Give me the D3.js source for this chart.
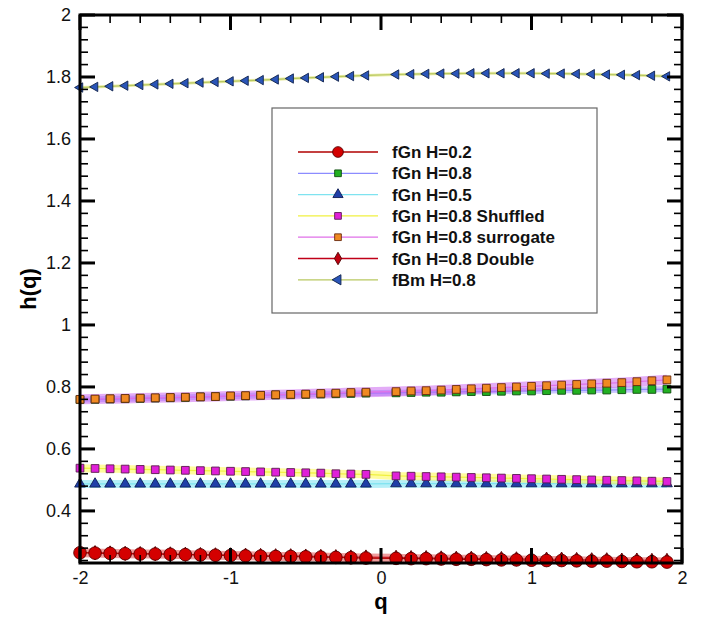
<!DOCTYPE html>
<html>
<head>
<meta charset="utf-8">
<script src="https://cdn.jsdelivr.net/npm/d3@7"></script>
<style>
  body { margin: 0; background: #fff; }
  text { font-family: "Liberation Sans", Arial, Helvetica, sans-serif; }
</style>
</head>
<body>
<svg id="chart_svg" width="703" height="622"></svg>
<script>
// q values: the point q = 0 is left out in the source figure
var qLeft = [-2, -1.9, -1.8, -1.7, -1.6, -1.5, -1.4, -1.3, -1.2, -1.1, -1, -0.9, -0.8, -0.7, -0.6, -0.5, -0.4, -0.3, -0.2, -0.1];
var qRight = [0.1, 0.2, 0.3, 0.4, 0.5, 0.6, 0.7, 0.8, 0.9, 1, 1.1, 1.2, 1.3, 1.4, 1.5, 1.6, 1.7, 1.8, 1.9];
var qValues = qLeft.concat(qRight);

var fgn02 = [0.265, 0.264, 0.263, 0.262, 0.261, 0.261, 0.260, 0.259, 0.258, 0.257, 0.256, 0.255, 0.254, 0.253, 0.253, 0.252, 0.251, 0.250, 0.249, 0.248,
  0.247, 0.246, 0.246, 0.245, 0.244, 0.244, 0.243, 0.242, 0.242, 0.241, 0.240, 0.240, 0.239, 0.238, 0.238, 0.237, 0.236, 0.236, 0.235];
var fgn08 = [0.759, 0.760, 0.761, 0.762, 0.763, 0.764, 0.765, 0.766, 0.768, 0.769, 0.770, 0.771, 0.773, 0.774, 0.775, 0.776, 0.777, 0.778, 0.779, 0.780,
  0.781, 0.782, 0.783, 0.783, 0.784, 0.785, 0.785, 0.786, 0.787, 0.787, 0.788, 0.789, 0.789, 0.790, 0.790, 0.791, 0.792, 0.792, 0.793];
var fgn05 = [0.487, 0.487, 0.487, 0.487, 0.487, 0.487, 0.487, 0.487, 0.487, 0.487, 0.487, 0.487, 0.487, 0.487, 0.487, 0.487, 0.487, 0.487, 0.487, 0.487,
  0.488, 0.488, 0.488, 0.488, 0.488, 0.488, 0.488, 0.488, 0.488, 0.488, 0.488, 0.488, 0.488, 0.488, 0.488, 0.488, 0.488, 0.488, 0.488];
var fgn08Shuffled = [0.538, 0.537, 0.536, 0.535, 0.534, 0.533, 0.532, 0.531, 0.530, 0.529, 0.528, 0.527, 0.526, 0.525, 0.524, 0.523, 0.522, 0.520, 0.519, 0.518,
  0.513, 0.512, 0.511, 0.510, 0.509, 0.508, 0.507, 0.506, 0.505, 0.504, 0.503, 0.502, 0.501, 0.500, 0.499, 0.498, 0.497, 0.496, 0.495];
var fgn08Surrogate = [0.760, 0.761, 0.762, 0.763, 0.764, 0.765, 0.766, 0.767, 0.768, 0.769, 0.771, 0.772, 0.773, 0.775, 0.776, 0.777, 0.779, 0.780, 0.782, 0.783,
  0.785, 0.787, 0.788, 0.790, 0.792, 0.794, 0.796, 0.798, 0.800, 0.802, 0.804, 0.806, 0.808, 0.810, 0.812, 0.814, 0.817, 0.820, 0.823];
var fgn08Double = [0.266, 0.265, 0.264, 0.263, 0.262, 0.262, 0.261, 0.260, 0.259, 0.258, 0.258, 0.257, 0.256, 0.255, 0.255, 0.254, 0.253, 0.252, 0.251, 0.251,
  0.250, 0.249, 0.249, 0.248, 0.247, 0.247, 0.246, 0.246, 0.245, 0.245, 0.244, 0.244, 0.243, 0.242, 0.242, 0.241, 0.241, 0.240, 0.240];
var fbm08 = [1.766, 1.768, 1.770, 1.772, 1.774, 1.776, 1.778, 1.780, 1.782, 1.784, 1.786, 1.788, 1.790, 1.792, 1.795, 1.797, 1.799, 1.801, 1.803, 1.805,
  1.808, 1.809, 1.810, 1.811, 1.811, 1.812, 1.812, 1.812, 1.812, 1.812, 1.811, 1.811, 1.810, 1.809, 1.808, 1.807, 1.806, 1.804, 1.802];

var seriesNames = ["fGn H=0.2", "fGn H=0.8", "fGn H=0.5", "fGn H=0.8 Shuffled", "fGn H=0.8 surrogate", "fGn H=0.8 Double", "fBm H=0.8"];
var seriesValues = [fgn02, fgn08, fgn05, fgn08Shuffled, fgn08Surrogate, fgn08Double, fbm08];

var xTicks = [-2, -1, 0, 1, 2];
var yTicks = [0.4, 0.6, 0.8, 1, 1.2, 1.4, 1.6, 1.8, 2];
var xMinorTicks = [-1.8, -1.6, -1.4, -1.2, -0.8, -0.6, -0.4, -0.2, 0.2, 0.4, 0.6, 0.8, 1.2, 1.4, 1.6, 1.8];
var yMinorTicks = [0.24, 0.28, 0.32, 0.36, 0.44, 0.48, 0.52, 0.56, 0.64, 0.68, 0.72, 0.76, 0.84, 0.88, 0.92, 0.96,
  1.04, 1.08, 1.12, 1.16, 1.24, 1.28, 1.32, 1.36, 1.44, 1.48, 1.52, 1.56, 1.64, 1.68, 1.72, 1.76, 1.84, 1.88, 1.92, 1.96];

// look of every series, in the order of seriesNames
var STYLES = [
  { line: "#b00000", band: "rgba(225,60,60,0.5)", bandWidth: 9, symbol: d3.symbolCircle, size: 125, fill: "#d40000", stroke: "#5a0000", rotate: 0 },
  { line: "#8c8cff", band: "rgba(150,140,255,0.5)", bandWidth: 6, symbol: d3.symbolSquare, size: 60, fill: "#22b022", stroke: "#0d4d0d", rotate: 0 },
  { line: "#7fe3f0", band: "rgba(120,225,240,0.55)", bandWidth: 8, symbol: d3.symbolTriangle, size: 50, fill: "#1f3fa8", stroke: "#0d1d55", rotate: 0 },
  { line: "#f0f040", band: "rgba(255,250,90,0.6)", bandWidth: 8, symbol: d3.symbolSquare, size: 60, fill: "#e020d8", stroke: "#5a1a55", rotate: 0 },
  { line: "#e070e8", band: "rgba(200,90,240,0.5)", bandWidth: 10, symbol: d3.symbolSquare, size: 60, fill: "#f08a22", stroke: "#6a2a10", rotate: 0 },
  { line: "#c00018", band: null, bandWidth: 0, symbol: d3.symbolDiamond, size: 60, fill: "#c00010", stroke: "#500000", rotate: 0 },
  { line: "#b8c860", band: "rgba(220,225,110,0.6)", bandWidth: 3, symbol: d3.symbolTriangle, size: 38, fill: "#2a55b8", stroke: "#10224d", rotate: -90 }
];

var PLOT = { LEFT: 80, RIGHT: 682, TOP: 15, BOTTOM: 563 };

window.addEventListener("load", drawChart);

function drawChart() {
  var svg = d3.select("#chart_svg");

  var xScale = d3.scaleLinear().domain([-2, 2]).range([PLOT.LEFT, PLOT.RIGHT]);
  var yScale = d3.scaleLinear().domain([0.232, 2]).range([PLOT.BOTTOM, PLOT.TOP]);

  var defs = svg.append("defs");
  defs.append("clipPath").attr("id", "plotclip").append("rect")
    .attr("x", PLOT.LEFT).attr("y", PLOT.TOP)
    .attr("width", PLOT.RIGHT - PLOT.LEFT).attr("height", PLOT.BOTTOM - PLOT.TOP);

  var plotArea = svg.append("g");

  var line = d3.line()
    .x(function (d) { return xScale(d.q); })
    .y(function (d) { return yScale(d.h); });

  // draw order: lower layers first, orange surrogate over the green squares
  var drawOrder = [1, 4, 2, 3, 5, 0, 6];

  drawOrder.forEach(function (i) {
    var pts = qValues.map(function (q, k) { return { q: q, h: seriesValues[i][k] }; });
    var st = STYLES[i];
    var g = plotArea.append("g").attr("clip-path", "url(#plotclip)");
    if (st.band) {
      g.append("path").datum(pts).attr("d", line)
        .attr("fill", "none").attr("stroke", st.band).attr("stroke-width", st.bandWidth);
    }
    g.append("path").datum(pts).attr("d", line)
      .attr("fill", "none").attr("stroke", st.line).attr("stroke-width", 1.2);
  });

  drawOrder.forEach(function (i) {
    var pts = qValues.map(function (q, k) { return { q: q, h: seriesValues[i][k] }; });
    var st = STYLES[i];
    plotArea.append("g").selectAll("path").data(pts).enter().append("path")
      .attr("d", d3.symbol().type(st.symbol).size(st.size))
      .attr("transform", function (d) {
        return "translate(" + xScale(d.q) + "," + yScale(d.h) + ") rotate(" + st.rotate + ")";
      })
      .attr("fill", st.fill).attr("stroke", st.stroke).attr("stroke-width", 0.9);
  });

  // tick labels from the axis generators
  var fmt = function (d) { return String(+d.toFixed(1)); };
  var yAxis = svg.append("g").attr("transform", "translate(" + PLOT.LEFT + ",0)")
    .call(d3.axisLeft(yScale).tickValues(yTicks).tickSize(0).tickPadding(9).tickFormat(fmt));
  var xAxis = svg.append("g").attr("transform", "translate(0," + PLOT.BOTTOM + ")")
    .call(d3.axisBottom(xScale).tickValues(xTicks).tickSize(0).tickPadding(8).tickFormat(fmt));
  [yAxis, xAxis].forEach(function (g) {
    g.select(".domain").remove();
    g.selectAll("line").remove();
    g.selectAll("text").attr("font-size", 18).attr("fill", "#111");
  });

  // axis titles
  svg.append("text").attr("x", (PLOT.LEFT + PLOT.RIGHT) / 2).attr("y", 609)
    .attr("text-anchor", "middle").attr("font-size", 22).attr("font-weight", "bold").text("q");
  svg.append("text").attr("transform", "translate(36,289) rotate(-90)")
    .attr("text-anchor", "middle").attr("font-size", 22).attr("font-weight", "bold").text("h(q)");

  // legend
  var legend = svg.append("g");
  legend.append("rect").attr("x", 272).attr("y", 108).attr("width", 325).attr("height", 205)
    .attr("fill", "#fff").attr("stroke", "#666").attr("stroke-width", 1.2);

  seriesNames.forEach(function (name, i) {
    var st = STYLES[i];
    var yy = 152 + i * 21.3;
    legend.append("line").attr("x1", 298).attr("x2", 378).attr("y1", yy).attr("y2", yy)
      .attr("stroke", st.line).attr("stroke-width", 1.3);
    legend.append("path")
      .attr("d", d3.symbol().type(st.symbol).size(i === 0 ? 90 : 45))
      .attr("transform", "translate(338," + yy + ") rotate(" + st.rotate + ")")
      .attr("fill", st.fill).attr("stroke", st.stroke).attr("stroke-width", 0.9);
    legend.append("text").attr("x", 392).attr("y", yy + 6)
      .attr("font-size", 17).attr("font-weight", "bold").attr("fill", "#111").text(name);
  });

  // frame
  svg.append("rect")
    .attr("x", PLOT.LEFT).attr("y", PLOT.TOP)
    .attr("width", PLOT.RIGHT - PLOT.LEFT).attr("height", PLOT.BOTTOM - PLOT.TOP)
    .attr("fill", "none").attr("stroke", "#000").attr("stroke-width", 3);

  // ticks pointing inward on all four sides, drawn last as small filled bars
  var ticks = svg.append("g").attr("fill", "#000");
  function yTickBars(values, len, thick, cls) {
    [PLOT.LEFT, PLOT.RIGHT - len].forEach(function (x0, side) {
      ticks.selectAll("rect." + cls + side).data(values).enter().append("rect")
        .attr("class", cls + side)
        .attr("x", x0).attr("width", len)
        .attr("y", function (d) { return yScale(d) - thick / 2; }).attr("height", thick);
    });
  }
  function xTickBars(values, len, thick, cls) {
    [PLOT.BOTTOM - len, PLOT.TOP].forEach(function (y0, side) {
      ticks.selectAll("rect." + cls + side).data(values).enter().append("rect")
        .attr("class", cls + side)
        .attr("y", y0).attr("height", len)
        .attr("x", function (d) { return xScale(d) - thick / 2; }).attr("width", thick);
    });
  }
  yTickBars(yTicks, 15, 3, "ymaj");
  yTickBars(yMinorTicks, 8, 1.6, "ymin");
  xTickBars(xTicks, 15, 3, "xmaj");
  xTickBars(xMinorTicks, 8, 1.6, "xmin");
}
</script>
</body>
</html>
